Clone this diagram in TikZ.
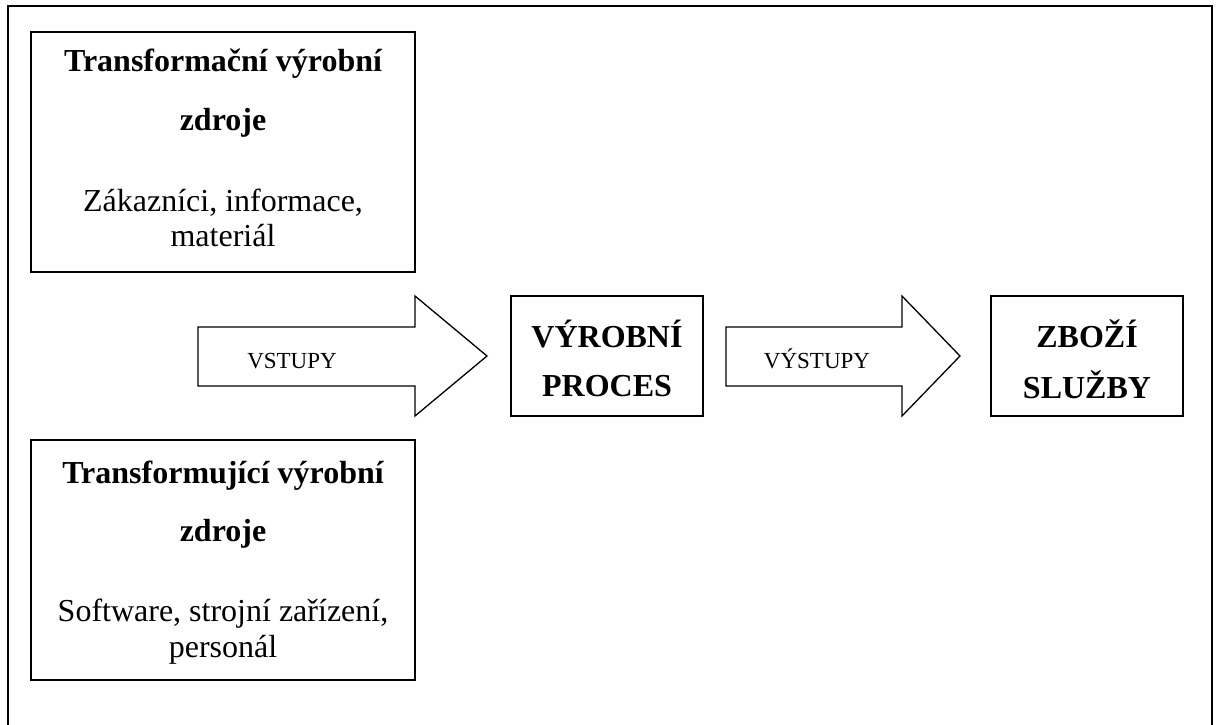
\documentclass[tikz,border=0pt]{standalone}
\usepackage{fontspec}
\setmainfont{Liberation Serif}
\begin{document}
\begin{tikzpicture}[x=1pt,y=-1pt,
  frame/.style={line width=2pt},
  box/.style={draw, line width=1.6pt, rectangle, inner sep=0pt},
  blockarrow/.style={draw, line width=1.3pt, line join=miter},
  head/.style={font=\fontsize{32}{36}\selectfont\bfseries, anchor=base, inner sep=0pt},
  body/.style={font=\fontsize{32}{36}\selectfont, anchor=base, inner sep=0pt},
  flowlabel/.style={font=\fontsize{23}{26}\selectfont, anchor=base, inner sep=0pt}]
\useasboundingbox (0,0) rectangle (1216,725);
% outer frame, open at the bottom
\draw[frame] (8,725) -- (8,6) -- (1212,6) -- (1212,725);

% transformed resources
\node[box, minimum width=384, minimum height=240] (src) at (223,152) {};
\node[head] (srcA) at (223,72) {Transformační výrobní};
\node[head] (srcB) at (223,130) {zdroje};
\node[body] (srcC) at (223,211) {Zákazníci, informace,};
\node[body] (srcD) at (223,246) {materiál};

% transforming resources
\node[box, minimum width=384, minimum height=240] (res) at (223,560) {};
\node[head] (resA) at (223,483) {Transformující výrobní};
\node[head] (resB) at (223,541) {zdroje};
\node[body] (resC) at (223,621) {Software, strojní zařízení,};
\node[body] (resD) at (223,657) {personál};

% process and output
\node[box, minimum width=192, minimum height=120] (proc) at (607,356) {};
\node[head] (procA) at (607,347) {VÝROBNÍ};
\node[head] (procB) at (607,396) {PROCES};
\node[box, minimum width=192, minimum height=120] (goods) at (1087,356) {};
\node[head] (goodsA) at (1087,347) {ZBOŽÍ};
\node[head] (goodsB) at (1087,398) {SLUŽBY};

% block arrows
\draw[blockarrow] (198,327) -- (415,327) -- (415,296) -- (487,356) -- (415,416)
  -- (415,386) -- (198,386) -- cycle;
\node[flowlabel] (inLbl) at (292,368) {VSTUPY};
\draw[blockarrow] (726,327) -- (902,327) -- (902,296) -- (960,356) -- (902,416)
  -- (902,386) -- (726,386) -- cycle;
\node[flowlabel] (outLbl) at (817,368) {VÝSTUPY};
\end{tikzpicture}
\end{document}
